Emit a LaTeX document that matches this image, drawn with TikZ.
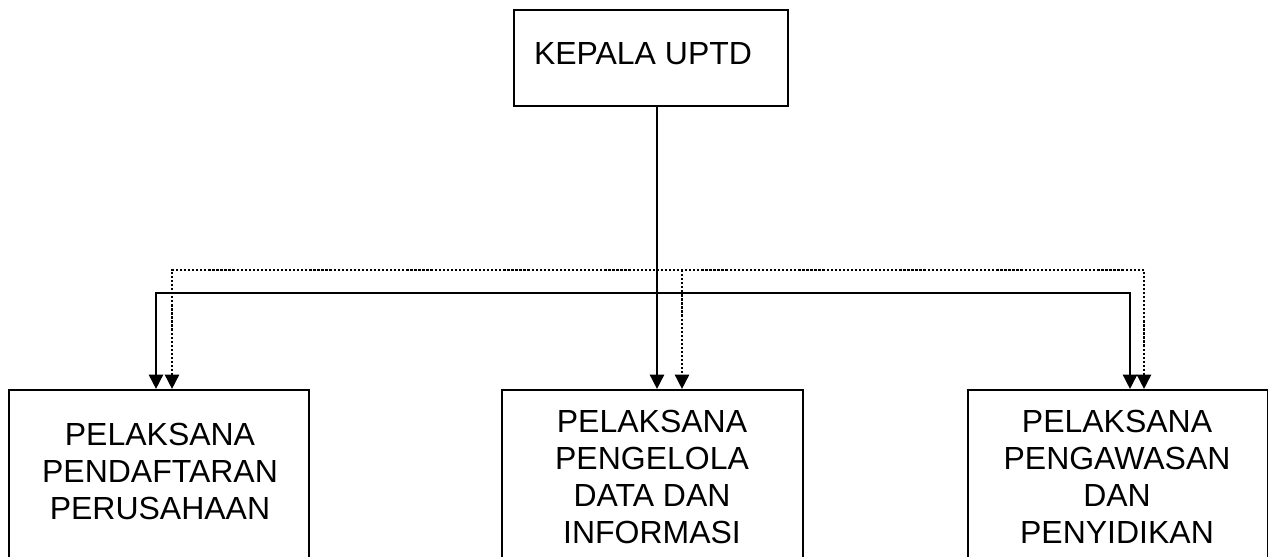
\documentclass[tikz,border=0pt]{standalone}
\usepackage{fontspec}
\setmainfont{Liberation Sans}
\usetikzlibrary{arrows.meta}
\tikzset{ah/.tip={Triangle[length=8.2pt,width=8pt]}}
\begin{document}
\begin{tikzpicture}[x=0.02cm,y=-0.02cm,
  box/.style={draw,line width=1.3pt,rectangle,inner sep=0pt},
  lbl/.style={align=center,inner sep=0pt,font=\fontsize{18.2}{21}\selectfont},
  link/.style={line width=1.4pt},
  dotlink/.style={line width=1.4pt,dash pattern=on 1.3pt off 1.0pt},
]
\useasboundingbox (0,0) rectangle (1268,556);
\clip (0,0) rectangle (1268,556);

% boxes
\node[box,anchor=north west,minimum width=5.48cm,minimum height=1.92cm] (top) at (513,9) {};
\node[box,anchor=north west,minimum width=6cm,minimum height=4.5cm] (left) at (8,389) {};
\node[box,anchor=north west,minimum width=6.02cm,minimum height=4.5cm] (center) at (501,389) {};
\node[box,anchor=north west,minimum width=6cm,minimum height=4.5cm] (right) at (967,389) {};

% labels
\node[lbl,anchor=center] (tl) at (643,54) {KEPALA UPTD};
\node[lbl,anchor=north] (l1) at (160,423) {PELAKSANA\\PENDAFTARAN\\PERUSAHAAN};
\node[lbl,anchor=north] (l2) at (652,410) {PELAKSANA\\PENGELOLA\\DATA DAN\\INFORMASI};
\node[lbl,anchor=north] (l3) at (1117,410) {PELAKSANA\\PENGAWASAN\\DAN\\PENYIDIKAN};

% connector coordinates
\coordinate (cin) at (657,389);
\coordinate (sL) at (156,293);
\coordinate (sR) at (1130,293);
\coordinate (dL) at (172,270);
\coordinate (dR) at (1144,270);
\coordinate (dC) at (682,270);

% solid lines
\draw[link,-ah] (top.south -| cin) -- (cin);
\draw[link,ah-ah] (sL |- left.north) -- (sL) -- (sR) -- (sR |- right.north);

% dotted lines
\draw[dotlink,ah-ah] (dL |- left.north) -- (dL) -- (dR) -- (dR |- right.north);
\draw[dotlink,-ah] (dC) -- (dC |- center.north);
\end{tikzpicture}
\end{document}
